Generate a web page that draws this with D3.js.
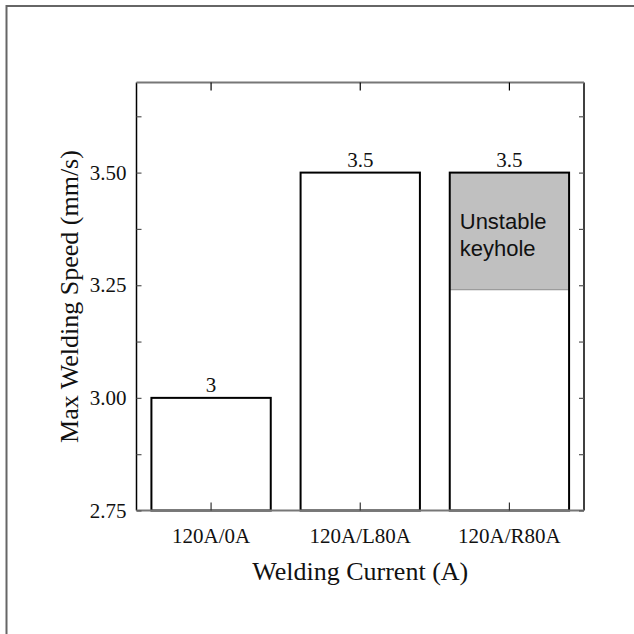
<!DOCTYPE html>
<html>
<head>
<meta charset="utf-8">
<script src="https://cdn.jsdelivr.net/npm/d3@7"></script>
<style>
  html, body { margin: 0; padding: 0; background: #fff; }
  svg { display: block; }
</style>
</head>
<body>
<svg id="chart" width="634" height="634"></svg>
<script>
// Maximum welding speed for each current configuration
const categories = ["120A/0A", "120A/L80A", "120A/R80A"];
const maxSpeed = [3.0, 3.5, 3.5];
// Lower edge of the shaded "unstable keyhole" zone (null = none)
const unstableFrom = [null, null, 3.24];
const yTickValues = [2.75, 3.00, 3.25, 3.50];
const yMinorTicks = [2.875, 3.125, 3.375, 3.625];
const yDomain = [2.75, 3.70];
const xTitle = "Welding Current (A)";
const yTitle = "Max Welding Speed (mm/s)";
const noteLines = ["Unstable", "keyhole"];

const svg = d3.select("#chart");
const plotL = 136.5, plotR = 584, plotT = 82.5, plotB = 510.5;

const x = d3.scaleBand().domain(categories).range([plotL, plotR])
  .paddingInner(0.2).paddingOuter(0.1);
const y = d3.scaleLinear().domain(yDomain).range([plotB, plotT]);

const serif = "'Liberation Serif', 'Times New Roman', serif";
const sans = "'Liberation Sans', Arial, sans-serif";

// outer frame (top and left edges visible)
svg.append("path")
  .attr("d", "M6.5,634 L6.5,6 L634,6")
  .attr("fill", "none").attr("stroke", "#666").attr("stroke-width", 2);

const data = categories.map((c, i) => ({ c, v: maxSpeed[i], u: unstableFrom[i] }));

// bar fills
svg.append("g").selectAll("rect").data(data).join("rect")
  .attr("x", d => x(d.c)).attr("y", d => y(d.v))
  .attr("width", x.bandwidth()).attr("height", d => y(yDomain[0]) - y(d.v))
  .attr("fill", "#fff");

// unstable keyhole zone
const zone = data.filter(d => d.u != null);
svg.append("g").selectAll("rect").data(zone).join("rect")
  .attr("x", d => x(d.c)).attr("y", d => y(d.v))
  .attr("width", x.bandwidth()).attr("height", d => y(d.u) - y(d.v))
  .attr("fill", "#c0c0c0");
svg.append("g").selectAll("line").data(zone).join("line")
  .attr("x1", d => x(d.c)).attr("x2", d => x(d.c) + x.bandwidth())
  .attr("y1", d => y(d.u)).attr("y2", d => y(d.u))
  .attr("stroke", "#8c8c8c").attr("stroke-width", 1);
zone.forEach(d => {
  const t = svg.append("text")
    .attr("font-family", sans).attr("font-size", 22).attr("fill", "#111");
  noteLines.forEach((s, k) => {
    t.append("tspan").attr("x", x(d.c) + 10).attr("y", 229 + k * 27).text(s);
  });
});

// bar outlines
svg.append("g").selectAll("rect").data(data).join("rect")
  .attr("x", d => x(d.c)).attr("y", d => y(d.v))
  .attr("width", x.bandwidth()).attr("height", d => y(yDomain[0]) - y(d.v))
  .attr("fill", "none").attr("stroke", "#000").attr("stroke-width", 2);

// value labels
svg.append("g").selectAll("text").data(data).join("text")
  .attr("x", d => x(d.c) + x.bandwidth() / 2).attr("y", d => y(d.v) - 5.5)
  .attr("text-anchor", "middle")
  .attr("font-family", serif).attr("font-size", 21).attr("fill", "#111")
  .text(d => String(d.v));

// axis frame
const frame = svg.append("g");
frame.append("line").attr("x1", plotL).attr("x2", plotL).attr("y1", plotT).attr("y2", plotB)
  .attr("stroke", "#000").attr("stroke-width", 1.5);
frame.append("line").attr("x1", plotR).attr("x2", plotR).attr("y1", plotT).attr("y2", plotB)
  .attr("stroke", "#000").attr("stroke-width", 1.5);
frame.append("line").attr("x1", plotL).attr("x2", plotR).attr("y1", plotT).attr("y2", plotT)
  .attr("stroke", "#777").attr("stroke-width", 2);
frame.append("line").attr("x1", plotL).attr("x2", plotR).attr("y1", plotB).attr("y2", plotB)
  .attr("stroke", "#777").attr("stroke-width", 2);

// y axis (left), ticks inward
const yAxisL = d3.axisLeft(y).tickValues(yTickValues).tickFormat(d3.format(".2f"))
  .tickSize(-5).tickPadding(10);
const gL = svg.append("g").attr("transform", `translate(${plotL},0)`).call(yAxisL);
gL.select(".domain").remove();
gL.selectAll(".tick line").attr("stroke", "#555").attr("stroke-width", 1.2);
gL.selectAll(".tick text").attr("font-family", serif).attr("font-size", 21).attr("fill", "#111");

const gLm = svg.append("g").attr("transform", `translate(${plotL},0)`)
  .call(d3.axisLeft(y).tickValues(yMinorTicks).tickSize(-5).tickFormat(""));
gLm.select(".domain").remove();
gLm.selectAll(".tick line").attr("stroke", "#555").attr("stroke-width", 1.2);

// y axis (right mirror), ticks inward
const gR = svg.append("g").attr("transform", `translate(${plotR},0)`)
  .call(d3.axisRight(y).tickValues(yTickValues.concat(yMinorTicks)).tickSize(-5).tickFormat(""));
gR.select(".domain").remove();
gR.selectAll(".tick line").attr("stroke", "#555").attr("stroke-width", 1.2);

// x axis (bottom), ticks inward
const gB = svg.append("g").attr("transform", `translate(0,${plotB})`)
  .call(d3.axisBottom(x).tickSize(-8).tickPadding(18));
gB.select(".domain").remove();
gB.selectAll(".tick line").attr("stroke", "#333").attr("stroke-width", 1.2);
gB.selectAll(".tick text").attr("font-family", serif).attr("font-size", 21).attr("fill", "#111");

// x axis (top mirror)
const gT = svg.append("g").attr("transform", `translate(0,${plotT})`)
  .call(d3.axisTop(x).tickSize(-8).tickFormat(""));
gT.select(".domain").remove();
gT.selectAll(".tick line").attr("stroke", "#000").attr("stroke-width", 1.2);

// axis titles
svg.append("text")
  .attr("x", (plotL + plotR) / 2).attr("y", 580)
  .attr("text-anchor", "middle")
  .attr("font-family", serif).attr("font-size", 26).attr("fill", "#111")
  .text(xTitle);
svg.append("text")
  .attr("transform", `translate(78,${(plotT + plotB) / 2}) rotate(-90)`)
  .attr("text-anchor", "middle")
  .attr("font-family", serif).attr("font-size", 26).attr("fill", "#111")
  .text(yTitle);
</script>
</body>
</html>
